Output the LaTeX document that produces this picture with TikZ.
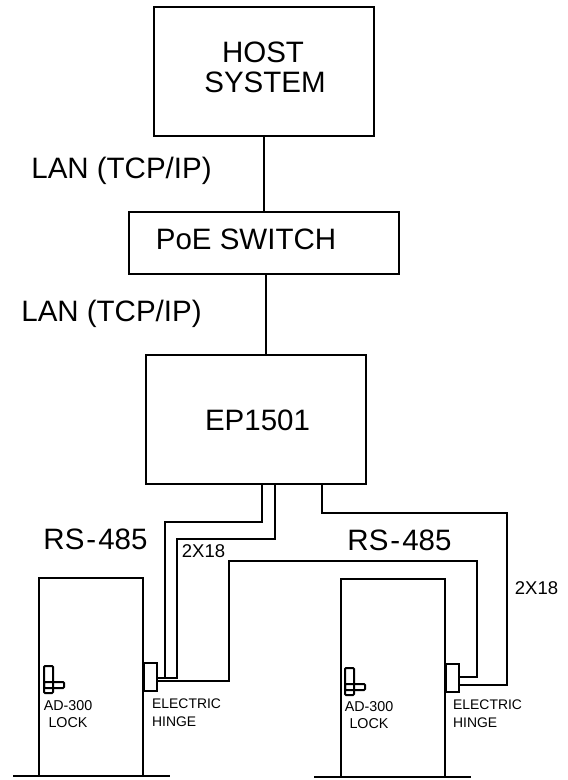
\documentclass[tikz,border=0pt]{standalone}
\usepackage{fontspec}
\setmainfont{Liberation Sans}
\usetikzlibrary{positioning}
\begin{document}
\begin{tikzpicture}[
    x=1pt, y=-1pt,
    box/.style={rectangle, draw=black, line width=2pt, inner sep=0pt},
    door/.style={rectangle, draw=black, line width=2pt, inner sep=0pt, minimum width=104pt, minimum height=198pt},
    hinge/.style={rectangle, draw=black, line width=2.2pt, inner sep=0pt, minimum width=13pt, minimum height=28pt},
    wire/.style={draw=black, line width=2.2pt},
    lockpart/.style={draw=black, line width=2pt, rounded corners=1pt},
    biglabel/.style={anchor=base, inner sep=0pt, font=\fontsize{29.5}{30}\selectfont},
    midlabel/.style={anchor=base, inner sep=0pt, font=\fontsize{18.5}{20}\selectfont},
    locklabel/.style={anchor=base, inner sep=0pt, font=\fontsize{14.3}{17}\selectfont},
    hingelabel/.style={anchor=base west, inner sep=0pt, font=\fontsize{13.9}{18}\selectfont}
]
\useasboundingbox (0,0) rectangle (568,780);

% Boxes
\node[box, minimum width=220pt, minimum height=129pt] (host) at (264,71.5) {};
\node[box, minimum width=270pt, minimum height=62pt] (switch) at (264,243) {};
\node[box, minimum width=220pt, minimum height=129pt] (ep) at (256,419.5) {};

% Box texts
\node[biglabel] (hosttext) at (263,62) {HOST};
\node[biglabel] (systemtext) at (265,92) {SYSTEM};
\node[biglabel] (switchtext) at (246,249) {PoE SWITCH};
\node[biglabel] (eptext) at (257.5,430) {EP1501};

% Doors
\node[door] (doorA) at (91,677) {};
\node[door] (doorB) at (392.5,678) {};
\node[hinge] (hingeA) at (150.5,677) {};
\node[hinge] (hingeB) at (452.5,678) {};

% Labels
\node[biglabel] (lanA) at (121.5,178.5) {LAN (TCP/IP)};
\node[biglabel] (lanB) at (111.5,321) {LAN (TCP/IP)};
\node[biglabel] (rsA) at (95.5,549) {RS\kern2pt-\kern2pt485};
\node[biglabel] (rsB) at (399.5,550) {RS\kern2pt-\kern2pt485};
\node[midlabel] (gaugeA) at (203.5,557) {2X18};
\node[midlabel] (gaugeB) at (536.5,594) {2X18};
\node[locklabel] (adA) at (68,710) {AD-300};
\node[locklabel] (lockA) at (68,727) {LOCK};
\node[locklabel] (adB) at (369,711) {AD-300};
\node[locklabel] (lockB) at (369,728) {LOCK};
\node[hingelabel] (electricA) at (152,708) {ELECTRIC};
\node[hingelabel] (hingetextA) at (152,726) {HINGE};
\node[hingelabel] (electricB) at (453,709) {ELECTRIC};
\node[hingelabel] (hingetextB) at (453,727) {HINGE};

% Lines
\draw[wire] (host.south) -- (host.south |- switch.north);
\draw[wire] (switch.south -| 266,0) -- (ep.north -| 266,0);
\draw[wire] (ep.south -| 262,0) -- (262,522) -- (165,522) -- (165,678) -- (hingeA.east |- 165,678);
\draw[wire] (ep.south -| 275,0) -- (275,539) -- (177,539) -- (177,678) -- (hingeA.east |- 177,678);
\draw[wire] (hingeA.east |- 0,681) -- (229,681) -- (229,561) -- (477,561) -- (477,677) -- (hingeB.east |- 0,677);
\draw[wire] (ep.south -| 322,0) -- (322,513) -- (507,513) -- (507,685) -- (hingeB.east |- 0,685);

% Floors
\draw[wire] (13,776) -- (170,776);
\draw[wire] (314,777) -- (471,777);

% Locks
\draw[lockpart] (44,666) rectangle (53,693);
\draw[lockpart] (44,682) rectangle (64,688);
\draw[lockpart] (345,668) rectangle (354,695);
\draw[lockpart] (345,684) rectangle (365,690);

\end{tikzpicture}
\end{document}
